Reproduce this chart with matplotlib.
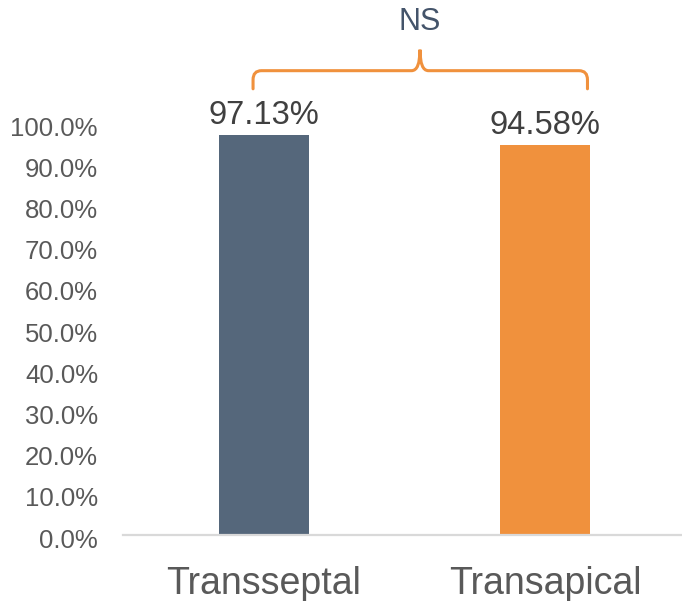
import numpy as np
import matplotlib
matplotlib.use("Agg")
import matplotlib.pyplot as plt
import matplotlib.transforms as mtransforms
from matplotlib.path import Path
from matplotlib.patches import PathPatch

plt.rcParams['font.family'] = ['Liberation Sans', 'DejaVu Sans']

categories = ['Transseptal', 'Transapical']
values = [0.9713, 0.9458]
labels = ['97.13%', '94.58%']
colors = ['#55677B', '#F0913D']
yticks = [i / 10 for i in range(11)]
sig_text = 'NS'

fig = plt.figure(figsize=(6.82, 6.01), dpi=100)
# plot area: left 123px, bottom at 535px, 100% at 123px; category width 281.5px
ax = fig.add_axes([123 / 682, 66 / 601, 563 / 682, 412 / 601])

x = np.arange(len(categories))
ax.bar(x, values, width=0.32, color=colors, zorder=2)

for xi, v, lab in zip(x, values, labels):
    ax.annotate(lab, (xi, v), xytext=(0, 3), textcoords='offset points',
                ha='center', va='bottom', fontsize=23.5, color='#404040')

ax.set_xlim(-0.5, 1.5)
ax.set_ylim(0, 1)
ax.set_yticks(yticks)
ax.set_yticklabels(['{:.1f}%'.format(t * 100) for t in yticks])
ax.tick_params(axis='y', length=0, pad=18, labelsize=18.5, labelcolor='#595959')
# excel draws the value labels a little below their gridline position
shift = mtransforms.ScaledTranslation(0, -3 / 100, fig.dpi_scale_trans)
for t in ax.get_yticklabels():
    t.set_transform(t.get_transform() + shift)
ax.set_xticks(x)
ax.set_xticklabels(categories)
ax.tick_params(axis='x', length=0, pad=22, labelsize=27, labelcolor='#595959')

for s in ['top', 'right', 'left']:
    ax.spines[s].set_visible(False)
ax.spines['bottom'].set_color('#D9D9D9')
ax.spines['bottom'].set_linewidth(1.6)

# curly brace over both bars
x0, x1, xm = x[0] - 0.038, x[1] + 0.15, 0.555
y_end, y_h, y_peak = 1.083, 1.127, 1.178
rx, ry = 0.03, 0.022
verts = [
    (x0, y_end), (x0, y_h - ry), (x0, y_h), (x0 + rx, y_h),
    (xm - rx, y_h), (xm, y_h), (xm, y_peak),
    (xm, y_h), (xm + rx, y_h),
    (x1 - rx, y_h), (x1, y_h), (x1, y_h - ry), (x1, y_end),
]
codes = [Path.MOVETO, Path.LINETO, Path.CURVE3, Path.CURVE3,
         Path.LINETO, Path.CURVE3, Path.CURVE3,
         Path.CURVE3, Path.CURVE3,
         Path.LINETO, Path.CURVE3, Path.CURVE3, Path.LINETO]
brace = PathPatch(Path(verts, codes), fill=False, edgecolor='#F0913D',
                  linewidth=2.2, clip_on=False, capstyle='round')
ax.add_patch(brace)
ax.text(xm, 1.245, sig_text, ha='center', va='center', fontsize=22,
        color='#44546A', clip_on=False)

fig.savefig('out.png', dpi=100)
